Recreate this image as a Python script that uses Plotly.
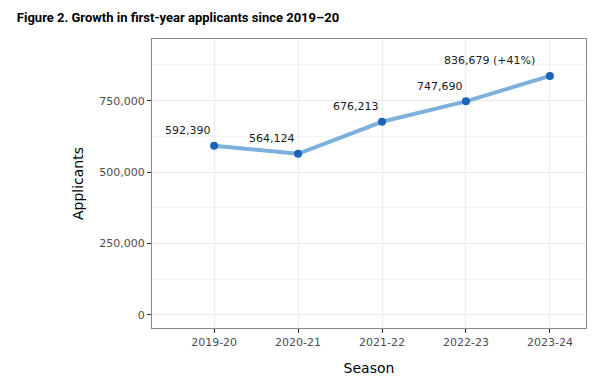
import plotly.graph_objects as go

seasons = ["2019-20", "2020-21", "2021-22", "2022-23", "2023-24"]
applicants = [592390, 564124, 676213, 747690, 836679]
labels = ["592,390", "564,124", "676,213", "747,690", "836,679 (+41%)"]
label_xshift = [-26, -26, -26, -26, -60]

y_ticks = [0, 250000, 500000, 750000]
y_tick_text = ["0", "250,000", "500,000", "750,000"]

fig = go.Figure()
fig.add_trace(go.Scatter(
    x=seasons, y=applicants, mode="lines",
    line=dict(color="#7db1dc", width=4), hoverinfo="skip", showlegend=False))
fig.add_trace(go.Scatter(
    x=seasons, y=applicants, mode="markers",
    marker=dict(color="#1a65b5", size=8), showlegend=False))

for s, v, t, dx in zip(seasons, applicants, labels, label_xshift):
    fig.add_annotation(x=s, y=v, text=t, showarrow=False, xshift=dx, yshift=15,
                       font=dict(family="DejaVu Sans", size=11, color="#1a1a1a"))

fig.update_layout(
    width=602, height=380,
    margin=dict(l=152, r=16, t=39, b=52),
    paper_bgcolor="white", plot_bgcolor="white",
    title=dict(text="<b>Figure 2. Growth in first-year applicants since 2019–20</b>",
               x=0.028, xanchor="left", y=0.955, yanchor="middle",
               font=dict(family="Roboto", size=13, color="black")),
    font=dict(family="DejaVu Sans"),
)
fig.update_xaxes(
    type="category", range=[-0.74, 4.43], automargin=False,
    showgrid=True, gridcolor="#ebebeb", gridwidth=1,
    ticks="outside", ticklen=4, tickcolor="#333333",
    tickfont=dict(family="DejaVu Sans", size=11, color="#4d4d4d"),
    title=dict(text="Season", font=dict(family="DejaVu Sans", size=14, color="black"), standoff=14),
    showline=True, linecolor="#888888", linewidth=1, mirror=True, zeroline=False,
)
fig.update_yaxes(
    range=[-46000, 966000], automargin=False,
    tickvals=y_ticks, ticktext=y_tick_text,
    showgrid=True, gridcolor="#ebebeb", gridwidth=1,
    minor=dict(showgrid=True, gridcolor="#f3f3f3", dtick=250000, tick0=125000),
    ticks="outside", ticklen=4, tickcolor="#333333",
    tickfont=dict(family="DejaVu Sans", size=11, color="#4d4d4d"),
    title=dict(text="Applicants", font=dict(family="DejaVu Sans", size=14, color="black"), standoff=12),
    showline=True, linecolor="#888888", linewidth=1, mirror=True, zeroline=False,
)

fig.write_html("out.html", config={"displayModeBar": False},
               post_script="document.body.style.margin='0';")
